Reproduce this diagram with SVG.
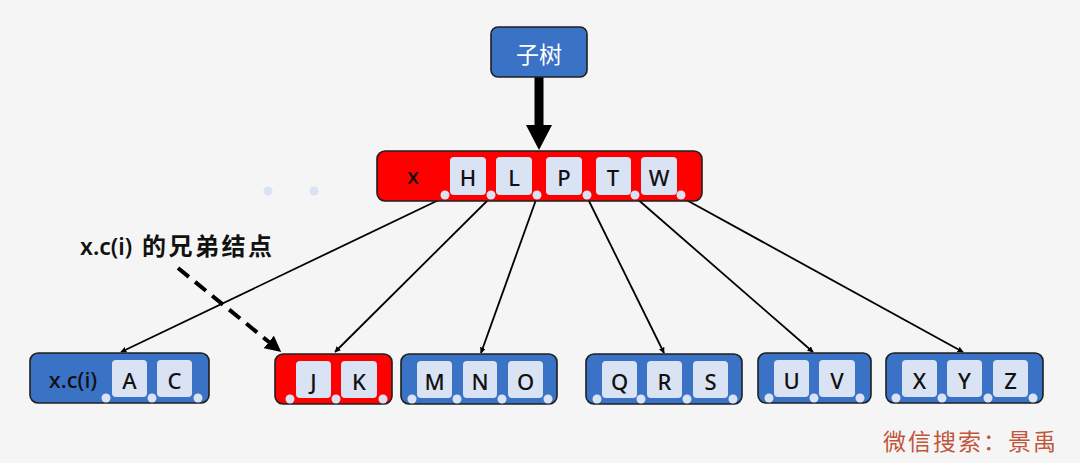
<svg xmlns="http://www.w3.org/2000/svg" width="1080" height="463" viewBox="0 0 1080 463">
<style>
.bg{fill:#f5f5f5}
.blue{fill:#3a72c6;stroke:#1f1f1f;stroke-width:1.6}
.red{fill:#ff0000;stroke:#1f1f1f;stroke-width:1.6}
.key{fill:#dae3f3}
.dot{fill:#dae3f3}
.kt{font-family:"Noto Sans","Liberation Sans",sans-serif;font-size:22px;font-weight:500;fill:#111;text-anchor:middle;dominant-baseline:central}
.lbl{font-family:"Noto Sans","Noto Sans CJK SC",sans-serif;font-size:23px;font-weight:600;fill:#111}
.edge{stroke:#000;stroke-width:1.8;fill:none}
</style>
<defs>
<marker id="ah" viewBox="0 0 10 10" refX="9" refY="5" markerWidth="6" markerHeight="6" orient="auto" markerUnits="userSpaceOnUse">
<path d="M0,0 L10,5 L0,10 z" fill="#000"/>
</marker>
<marker id="ahd" viewBox="0 0 10 10" refX="9" refY="5" markerWidth="4" markerHeight="4" orient="auto">
<path d="M0,0 L10,5 L0,10 z" fill="#000"/>
</marker>
</defs>
<rect class="bg" x="0" y="0" width="1080" height="463"/>

<g id="connectors">
<line class="edge" x1="445" y1="197" x2="121" y2="352" marker-end="url(#ah)"/>
<line class="edge" x1="491" y1="197" x2="335" y2="352" marker-end="url(#ah)"/>
<line class="edge" x1="537" y1="197" x2="481" y2="353" marker-end="url(#ah)"/>
<line class="edge" x1="587" y1="197" x2="664" y2="353" marker-end="url(#ah)"/>
<line class="edge" x1="635" y1="197" x2="813" y2="352" marker-end="url(#ah)"/>
<line class="edge" x1="681" y1="197" x2="963" y2="352" marker-end="url(#ah)"/>
<line x1="539" y1="77" x2="539" y2="126" stroke="#000" stroke-width="9"/>
<path d="M526,125 L552,125 L539,150 z" fill="#000"/>
<line x1="178" y1="268" x2="280" y2="351" stroke="#000" stroke-width="4" stroke-dasharray="14,8" marker-end="url(#ahd)"/>
</g>

<g id="node-subtree">
<rect x="491" y="27" width="96" height="50" rx="7" class="blue"/>
<text x="539" y="53" font-family="Noto Sans CJK SC,sans-serif" font-size="23" fill="#fff" text-anchor="middle" dominant-baseline="central">子树</text>
</g>

<g id="node-x">
<rect x="377" y="151" width="325" height="50" rx="8" class="red"/>
<text x="413" y="175" class="kt" font-size="20">x</text>
<rect class="key" x="450" y="157" width="36" height="38" rx="4"/><text class="kt" x="468" y="177" font-size="24">H</text>
<rect class="key" x="496" y="157" width="36" height="38" rx="4"/><text class="kt" x="514" y="177" font-size="24">L</text>
<rect class="key" x="546" y="157" width="36" height="38" rx="4"/><text class="kt" x="564" y="177" font-size="24">P</text>
<rect class="key" x="596" y="157" width="35" height="38" rx="4"/><text class="kt" x="613" y="177" font-size="24">T</text>
<rect class="key" x="641" y="157" width="36" height="38" rx="4"/><text class="kt" x="659" y="177" font-size="24">W</text>
<circle class="dot" cx="445" cy="195" r="4.5"/><circle class="dot" cx="491" cy="195" r="4.5"/><circle class="dot" cx="537" cy="195" r="4.5"/><circle class="dot" cx="587" cy="195" r="4.5"/><circle class="dot" cx="635" cy="195" r="4.5"/><circle class="dot" cx="681" cy="195" r="4.5"/>
</g>

<g id="dots">
<circle class="dot" cx="268" cy="191" r="4.5"/><circle class="dot" cx="314" cy="191" r="4.5"/>
</g>

<g id="label-sibling">
<text class="lbl" x="80" y="255">x.c(i) <tspan x="142" font-size="24" letter-spacing="2.5">的兄弟结点</tspan></text>
</g>

<g id="node-xci">
<rect x="30" y="353" width="179" height="50" rx="8" class="blue"/>
<text x="73" y="379" class="kt" font-size="20" font-weight="600">x.c(i)</text>
<rect class="key" x="112" y="360" width="35" height="37" rx="4"/><text class="kt" x="129.5" y="380">A</text>
<rect class="key" x="157" y="360" width="35" height="37" rx="4"/><text class="kt" x="174.5" y="380">C</text>
<circle class="dot" cx="106" cy="398" r="4.5"/><circle class="dot" cx="152" cy="398" r="4.5"/><circle class="dot" cx="198" cy="398" r="4.5"/>
</g>

<g id="node-jk">
<rect x="275" y="354" width="117" height="50" rx="8" class="red"/>
<rect class="key" x="296" y="361" width="35" height="37" rx="4"/><text class="kt" x="313.5" y="381">J</text>
<rect class="key" x="341" y="361" width="36" height="37" rx="4"/><text class="kt" x="359" y="381">K</text>
<circle class="dot" cx="290" cy="399" r="4.5"/><circle class="dot" cx="336" cy="399" r="4.5"/><circle class="dot" cx="383" cy="399" r="4.5"/>
</g>

<g id="node-mno">
<rect x="401" y="354" width="156" height="50" rx="8" class="blue"/>
<rect class="key" x="417" y="361" width="35" height="37" rx="4"/><text class="kt" x="434.5" y="381">M</text>
<rect class="key" x="463" y="361" width="34" height="37" rx="4"/><text class="kt" x="480" y="381">N</text>
<rect class="key" x="508" y="361" width="35" height="37" rx="4"/><text class="kt" x="525.5" y="381">O</text>
<circle class="dot" cx="412" cy="399" r="4.5"/><circle class="dot" cx="457" cy="399" r="4.5"/><circle class="dot" cx="502" cy="399" r="4.5"/><circle class="dot" cx="548" cy="399" r="4.5"/>
</g>

<g id="node-qrs">
<rect x="586" y="354" width="156" height="50" rx="8" class="blue"/>
<rect class="key" x="602" y="361" width="35" height="37" rx="4"/><text class="kt" x="619.5" y="381">Q</text>
<rect class="key" x="647" y="361" width="35" height="37" rx="4"/><text class="kt" x="664.5" y="381">R</text>
<rect class="key" x="693" y="361" width="35" height="37" rx="4"/><text class="kt" x="710.5" y="381">S</text>
<circle class="dot" cx="597" cy="399" r="4.5"/><circle class="dot" cx="641" cy="399" r="4.5"/><circle class="dot" cx="687" cy="399" r="4.5"/><circle class="dot" cx="733" cy="399" r="4.5"/>
</g>

<g id="node-uv">
<rect x="758" y="353" width="113" height="50" rx="8" class="blue"/>
<rect class="key" x="774" y="360" width="35" height="37" rx="4"/><text class="kt" x="791.5" y="380">U</text>
<rect class="key" x="819" y="360" width="36" height="37" rx="4"/><text class="kt" x="837" y="380">V</text>
<circle class="dot" cx="769" cy="398" r="4.5"/><circle class="dot" cx="814" cy="398" r="4.5"/><circle class="dot" cx="860" cy="398" r="4.5"/>
</g>

<g id="node-xyz">
<rect x="886" y="353" width="157" height="50" rx="8" class="blue"/>
<rect class="key" x="902" y="360" width="35" height="37" rx="4"/><text class="kt" x="919.5" y="380">X</text>
<rect class="key" x="947" y="360" width="35" height="37" rx="4"/><text class="kt" x="964.5" y="380">Y</text>
<rect class="key" x="993" y="360" width="35" height="37" rx="4"/><text class="kt" x="1010.5" y="380">Z</text>
<circle class="dot" cx="896" cy="398" r="4.5"/><circle class="dot" cx="942" cy="398" r="4.5"/><circle class="dot" cx="988" cy="398" r="4.5"/><circle class="dot" cx="1033" cy="398" r="4.5"/>
</g>

<text x="883" y="450" font-family="Noto Sans CJK SC,sans-serif" font-size="23" fill="#c0553a" letter-spacing="2">微信搜索：景禹</text>
</svg>
